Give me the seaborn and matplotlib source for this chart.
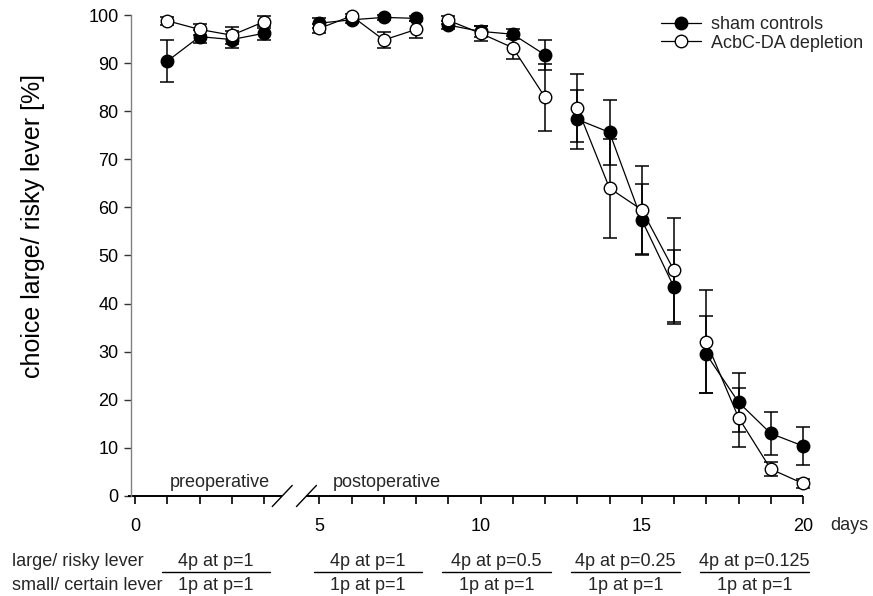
import numpy as np
import pandas as pd
import matplotlib
matplotlib.use("Agg")
import matplotlib.pyplot as plt
import seaborn as sns
from matplotlib import transforms
from matplotlib.lines import Line2D

# ---------------- data ----------------
days = [1, 2, 3, 4, 5, 6, 7, 8, 9, 10, 11, 12, 13, 14, 15, 16, 17, 18, 19, 20]
phase = [0, 0, 0, 0, 1, 1, 1, 1, 2, 2, 2, 2, 3, 3, 3, 3, 4, 4, 4, 4]
sham_mean = [90.4, 95.5, 94.9, 96.2, 98.3, 99.0, 99.5, 99.3, 97.9, 96.6, 96.0, 91.7,
             78.3, 75.6, 57.4, 43.4, 29.5, 19.5, 13.0, 10.4]
sham_sem = [4.4, 1.4, 1.8, 1.5, 1.0, 0.6, 0.5, 0.5, 0.8, 1.2, 1.0, 3.2,
            6.1, 6.8, 7.4, 7.7, 8.0, 6.1, 4.4, 3.9]
depl_mean = [98.8, 97.0, 95.8, 98.6, 97.2, 99.8, 94.8, 97.0, 98.9, 96.2, 93.2, 82.9,
             80.7, 64.0, 59.5, 46.9, 32.1, 16.3, 5.6, 2.6]
depl_sem = [0.8, 1.1, 1.8, 1.2, 1.0, 0.5, 1.6, 1.8, 0.8, 1.6, 2.4, 7.0,
            7.0, 10.3, 9.1, 10.8, 10.7, 6.2, 1.4, 1.0]
groups = ["sham controls", "AcbC-DA depletion"]
large_lever = ["4p at p=1", "4p at p=1", "4p at p=0.5", "4p at p=0.25", "4p at p=0.125"]
small_lever = ["1p at p=1", "1p at p=1", "1p at p=1", "1p at p=1", "1p at p=1"]
major_labels = ["0", "5", "10", "15", "20"]
major_days = [0, 5, 10, 15, 20]

# ---------------- style ----------------
sns.set_theme(style="white")
plt.rcParams["font.family"] = ["Liberation Sans", "DejaVu Sans"]

PRE_SHIFT = 0.714   # visual gap of the broken axis (preoperative days shifted left)
LAST_PRE = 4


def to_pos(d):
    d = np.asarray(d, dtype=float)
    return d - np.where(d <= LAST_PRE, PRE_SHIFT, 0.0)


rows = []
for g, means, sems in [(groups[0], sham_mean, sham_sem), (groups[1], depl_mean, depl_sem)]:
    for d, p, m, s in zip(days, phase, means, sems):
        rows.append({"group": g, "day": d, "phase": p, "mean": m, "sem": s})
df = pd.DataFrame(rows)
df["pos"] = to_pos(df["day"])

fig = plt.figure(figsize=(8.73, 5.96), dpi=100)
ax = fig.add_axes([131 / 873, 1 - 496 / 596, 672 / 873, 481 / 596])

styles = {groups[0]: ("black", 3), groups[1]: ("white", 4)}
for g in groups:
    sub = df[df["group"] == g]
    ax.errorbar(sub["pos"], sub["mean"], yerr=sub["sem"], fmt="none", ecolor="black",
                elinewidth=1.1, capsize=5, capthick=1.1, zorder=2, clip_on=False)
for g in groups:
    sub = df[df["group"] == g]
    mfc, z = styles[g]
    sns.lineplot(data=sub, x="pos", y="mean", units="phase", estimator=None, sort=False,
                 color="black", lw=0.9, marker="o", markersize=9, markerfacecolor=mfc,
                 markeredgecolor="black", markeredgewidth=1.0, ax=ax, legend=False,
                 zorder=z, clip_on=False)

# ---------------- axes ----------------
ax.set_xlim(-0.84, 20)
ax.set_ylim(0, 100)
sns.despine(ax=ax)
ax.spines["bottom"].set_visible(False)
ax.spines["left"].set_color("#808080")
ax.spines["left"].set_linewidth(1.0)

ax.set_xticks(to_pos(major_days))
ax.set_xticklabels(major_labels)
minor = [d for d in range(1, 20) if d not in major_days]
ax.set_xticks(to_pos(minor), minor=True)
ax.tick_params(axis="x", which="both", direction="out", length=6, width=1.2,
               color="black", bottom=True, pad=10, labelsize=13, labelcolor="black")
ax.set_yticks(range(0, 101, 10))
ax.tick_params(axis="y", direction="out", length=5, width=1.0, color="#333333",
               left=True, pad=4, labelsize=13, labelcolor="black")
ax.set_xlabel("")
ax.set_ylabel("choice large/ risky lever [%]", fontsize=18, color="black")
ax.yaxis.set_label_coords(-0.128, 0.561)

# broken x-axis line
b1, b2 = 3.85, 4.60
ax.plot([-0.93, b1], [0, 0], color="black", lw=1.4, clip_on=False, solid_capstyle="butt", zorder=1)
ax.plot([b2, 20], [0, 0], color="black", lw=1.4, clip_on=False, solid_capstyle="butt", zorder=1)
for cx in (b1, b2):
    ax.plot([cx - 0.31, cx + 0.31], [-2.2, 2.2], color="black", lw=1.0, clip_on=False)

ax.text(1.93, 1.9, "preoperative", ha="center", va="baseline", fontsize=13)
ax.text(7.08, 1.9, "postoperative", ha="center", va="baseline", fontsize=13)

# legend
handles = [Line2D([0], [0], color="black", lw=0.9, marker="o", ms=9, mfc="black", mec="black"),
           Line2D([0], [0], color="black", lw=0.9, marker="o", ms=9, mfc="white", mec="black")]
fig.legend(handles, groups, loc="upper left", bbox_to_anchor=(661 / 873, 1 - 16 / 596),
           frameon=False, fontsize=13, handlelength=2.2, handletextpad=0.55,
           labelspacing=0.1, borderpad=0, borderaxespad=0)

# days label
fig.text(830 / 873, 1 - 525 / 596, "days", ha="left", va="center", fontsize=13)

# lever schedule
y1, y2, yl = 1 - 562 / 596, 1 - 585 / 596, 1 - 572 / 596
fig.text(12 / 873, y1, "large/ risky lever", ha="left", va="center", fontsize=13)
fig.text(12 / 873, y2, "small/ certain lever", ha="left", va="center", fontsize=13)
trans = transforms.blended_transform_factory(ax.transData, fig.transFigure)
pos_all = to_pos(days)
for i in range(len(large_lever)):
    ps = [p for p, ph in zip(pos_all, phase) if ph == i]
    c = (min(ps) + max(ps)) / 2
    ax.text(c, y1, large_lever[i], transform=trans, ha="center", va="center", fontsize=13)
    ax.text(c, y2, small_lever[i], transform=trans, ha="center", va="center", fontsize=13)
    ax.plot([c - 1.68, c + 1.68], [yl, yl], transform=trans, color="black", lw=1.0, clip_on=False)

ax.set_xlim(-0.84, 20)
ax.set_ylim(0, 100)
fig.savefig("out.png", dpi=100)
